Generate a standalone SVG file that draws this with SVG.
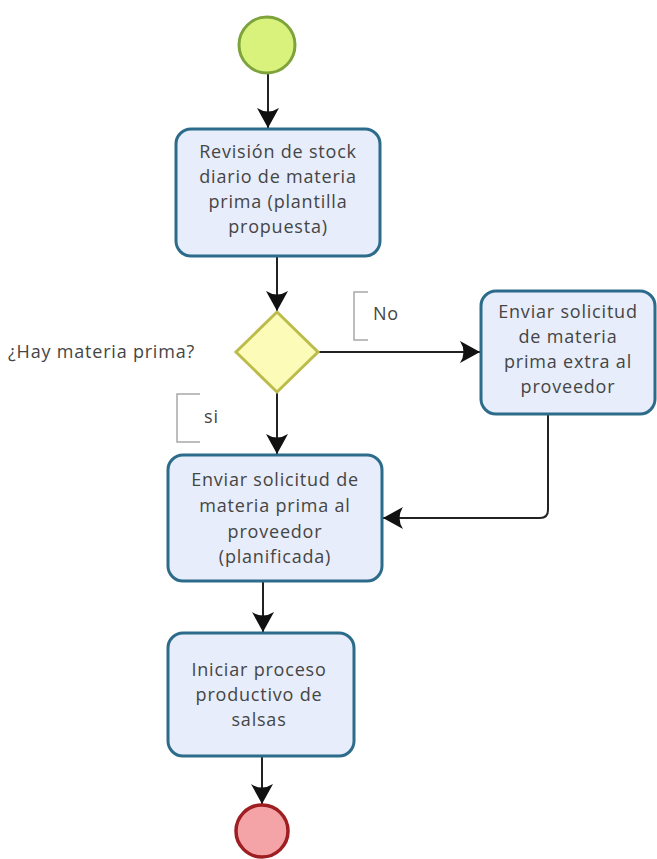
<svg xmlns="http://www.w3.org/2000/svg" width="657" height="859" viewBox="0 0 657 859">
  <style>
    .task { fill: #e7edfa; stroke: #2d6b8a; stroke-width: 3; }
    .txt { font-family: "Open Sans", "DejaVu Sans", sans-serif; font-size: 18px; letter-spacing: 0.8px; fill: #454545; text-anchor: middle; }
    .lbl { font-family: "Open Sans", "DejaVu Sans", sans-serif; font-size: 18px; letter-spacing: 0.8px; fill: #454545; }
    .flow { fill: none; stroke: #222; stroke-width: 2; }
    .bracket { fill: none; stroke: #a8a8a8; stroke-width: 1.5; }
  </style>
  <defs>
    <marker id="arrow" markerUnits="userSpaceOnUse" markerWidth="22" markerHeight="24" refX="20" refY="11" orient="auto">
      <path d="M20,11 L0,0 Q7,11 0,22 Z" fill="#111"/>
    </marker>
  </defs>
  <rect width="657" height="859" fill="#ffffff"/>

  <!-- sequence flows -->
  <g id="connectors">
    <line class="flow" x1="268" y1="73" x2="268" y2="128" marker-end="url(#arrow)"/>
    <line class="flow" x1="277" y1="257" x2="277" y2="311" marker-end="url(#arrow)"/>
    <line class="flow" x1="318" y1="352" x2="480" y2="352" marker-end="url(#arrow)"/>
    <line class="flow" x1="277" y1="393" x2="277" y2="454" marker-end="url(#arrow)"/>
    <path class="flow" d="M548,415 L548,510 Q548,518 540,518 L383,518" marker-end="url(#arrow)"/>
    <line class="flow" x1="263" y1="582" x2="263" y2="632" marker-end="url(#arrow)"/>
    <line class="flow" x1="262" y1="757" x2="262" y2="804" marker-end="url(#arrow)"/>
  </g>

  <!-- start event -->
  <g id="start">
    <circle cx="267" cy="45" r="28" fill="#d8f27c" stroke="#7ea33c" stroke-width="3"/>
  </g>

  <g id="revision">
    <rect class="task" x="176" y="129" width="204" height="127" rx="15"/>
    <text class="txt" x="278" y="158">Revisión de stock</text>
    <text class="txt" x="278" y="183">diario de materia</text>
    <text class="txt" x="278" y="208">prima (plantilla</text>
    <text class="txt" x="278" y="233">propuesta)</text>
  </g>

  <g id="gateway">
    <polygon points="277,312 318,352 277,392 236,352" fill="#fdfbb8" stroke="#bcbc4c" stroke-width="3"/>
    <text class="lbl" x="8" y="358">¿Hay materia prima?</text>
  </g>

  <g id="label-no">
    <path class="bracket" d="M368,292 L354,292 L354,340 L368,340"/>
    <text class="lbl" x="373" y="320">No</text>
  </g>

  <g id="label-si">
    <path class="bracket" d="M200,394 L177,394 L177,442 L200,442"/>
    <text class="lbl" x="204" y="423">si</text>
  </g>

  <g id="solicitud-extra">
    <rect class="task" x="481" y="291" width="174" height="123" rx="15"/>
    <text class="txt" x="568" y="318">Enviar solicitud</text>
    <text class="txt" x="568" y="343">de materia</text>
    <text class="txt" x="568" y="368">prima extra al</text>
    <text class="txt" x="568" y="393">proveedor</text>
  </g>

  <g id="solicitud-planificada">
    <rect class="task" x="168" y="455" width="214" height="126" rx="15"/>
    <text class="txt" x="275" y="486">Enviar solicitud de</text>
    <text class="txt" x="275" y="512">materia prima al</text>
    <text class="txt" x="275" y="538">proveedor</text>
    <text class="txt" x="275" y="563">(planificada)</text>
  </g>

  <g id="iniciar">
    <rect class="task" x="168" y="633" width="186" height="123" rx="15"/>
    <text class="txt" x="259" y="676">Iniciar proceso</text>
    <text class="txt" x="259" y="701">productivo de</text>
    <text class="txt" x="259" y="726">salsas</text>
  </g>

  <!-- end event -->
  <g id="end">
    <circle cx="262" cy="831" r="26" fill="#f4a3a6" stroke="#9e1e22" stroke-width="3.5"/>
  </g>
</svg>
